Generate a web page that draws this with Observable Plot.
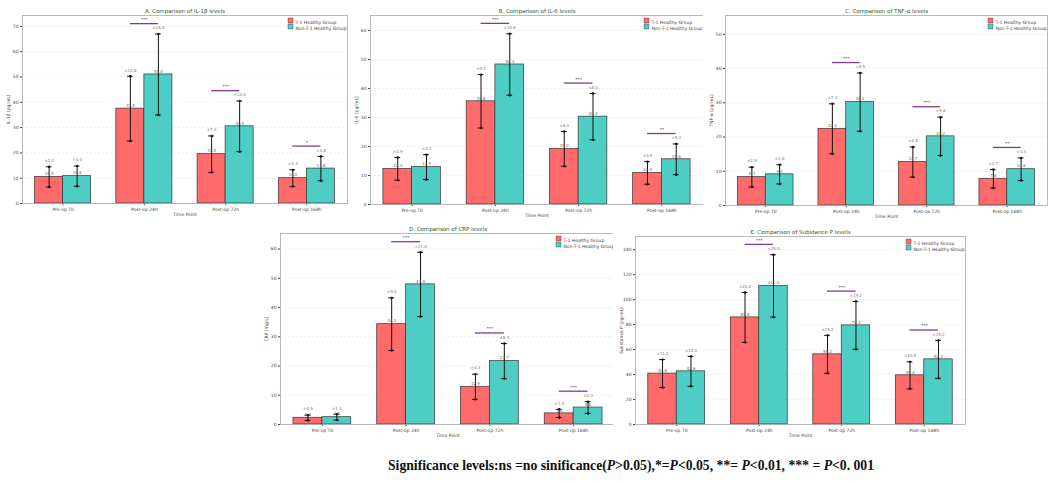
<!DOCTYPE html>
<html>
<head>
<meta charset="utf-8">
<script src="https://cdn.jsdelivr.net/npm/d3@7"></script>
<script src="https://cdn.jsdelivr.net/npm/@observablehq/plot@0.6"></script>
<style>
  html, body { margin: 0; padding: 0; background: #fff; }
  #wrap { position: relative; width: 1048px; height: 483px; overflow: hidden; background: #fff; }
  .panel { position: absolute; }
  #note { position: absolute; left: 388px; top: 458px; font-family: "Liberation Serif", "DejaVu Serif", serif; font-weight: bold; font-size: 13.7px; color: #111; white-space: nowrap; }
</style>
</head>
<body>
<div id="wrap"><div id="note">Significance levels:ns =no sinificance(<i>P</i>&gt;0.05),*=<i>P</i>&lt;0.05, **= <i>P</i>&lt;0.01, *** = <i>P</i>&lt;0. 001</div></div>
<script>
// ---- categories ----
const times = ["Pre-op T0", "Post-op 24h", "Post-op 72h", "Post-op 168h"];
const groups = ["T-1 Healthy Group", "Non-T-1 Healthy Group"];

// ---- A. IL-1β ----
const il1bHealthy = [10.5, 37.5, 19.5, 10.0];
const il1bHealthySd = [4.0, 12.8, 7.2, 3.3];
const il1bOther = [10.8, 51.0, 30.5, 13.8];
const il1bOtherSd = [4.0, 16.0, 10.0, 4.8];
const il1bSig = ["", "***", "***", "*"];

// ---- B. IL-6 ----
const il6Healthy = [12.3, 35.6, 19.2, 10.9];
const il6HealthySd = [3.9, 9.2, 6.0, 3.9];
const il6Other = [12.9, 48.3, 30.3, 15.6];
const il6OtherSd = [4.3, 10.6, 8.0, 5.3];
const il6Sig = ["", "***", "***", "**"];

// ---- C. TNF-α ----
const tnfHealthy = [8.3, 22.4, 12.7, 7.8];
const tnfHealthySd = [2.9, 7.3, 4.4, 2.7];
const tnfOther = [9.1, 30.2, 20.2, 10.6];
const tnfOtherSd = [2.8, 8.5, 5.6, 3.3];
const tnfSig = ["", "***", "***", "**"];

// ---- D. CRP ----
const crpHealthy = [2.3, 34.3, 12.9, 3.8];
const crpHealthySd = [0.9, 9.0, 4.3, 1.4];
const crpOther = [2.5, 47.9, 21.7, 5.8];
const crpOtherSd = [1.0, 11.0, 6.0, 2.0];
const crpSig = ["", "***", "***", "***"];

// ---- E. Substance P ----
const spHealthy = [40.8, 85.8, 56.2, 39.4];
const spHealthySd = [11.2, 20.0, 15.2, 10.8];
const spOther = [42.6, 111.0, 79.4, 52.2];
const spOtherSd = [12.0, 25.0, 19.2, 15.2];
const spSig = ["", "***", "***", "***"];

const colors = ["#FF6B6B", "#4ECDC4"];
const bw = 0.345;

const panels = [
  {title: "A. Comparison of IL-1β levels", ylabel: "IL-1β (pg/mL)", a: il1bHealthy, as: il1bHealthySd, b: il1bOther, bs: il1bOtherSd, sig: il1bSig, top: 74.3, step: 10,
   left: 0, topPx: 0, width: 350, height: 220, mL: 22, mR: 3, mT: 15, mB: 17},
  {title: "B. Comparison of IL-6 levels", ylabel: "IL-6 (pg/mL)", a: il6Healthy, as: il6HealthySd, b: il6Other, bs: il6OtherSd, sig: il6Sig, top: 65.2, step: 10,
   left: 348, topPx: 0, width: 358, height: 220, mL: 22, mR: 3, mT: 15, mB: 16},
  {title: "C. Comparison of TNF-α levels", ylabel: "TNF-α (pg/mL)", a: tnfHealthy, as: tnfHealthySd, b: tnfOther, bs: tnfOtherSd, sig: tnfSig, top: 55.5, step: 10,
   left: 703, topPx: 0, width: 345, height: 220, mL: 22, mR: 1, mT: 15, mB: 15},
  {title: "D. Comparison of CRP levels", ylabel: "CRP (mg/L)", a: crpHealthy, as: crpHealthySd, b: crpOther, bs: crpOtherSd, sig: crpSig, top: 65.3, step: 10,
   left: 258, topPx: 220, width: 360, height: 220, mL: 22, mR: 3, mT: 13, mB: 16},
  {title: "E. Comparison of Substance P levels", ylabel: "Substance P (pg/mL)", a: spHealthy, as: spHealthySd, b: spOther, bs: spOtherSd, sig: spSig, top: 150.6, step: 20,
   left: 613, topPx: 220, width: 355, height: 220, mL: 22, mR: 3, mT: 16, mB: 16}
];

const wrap = document.getElementById("wrap");

for (const p of panels) {
  const rows = [];
  times.forEach((t, i) => {
    rows.push({i, g: 0, mean: p.a[i], sd: p.as[i]});
    rows.push({i, g: 1, mean: p.b[i], sd: p.bs[i]});
  });
  rows.forEach(r => { r.cx = r.i + (r.g === 0 ? -bw / 2 : bw / 2); });
  const sigRows = times.map((t, i) => ({
    i, label: p.sig[i],
    y: Math.max(p.a[i] + p.as[i], p.b[i] + p.bs[i]) + p.top * 0.055
  })).filter(d => d.label);
  const ticks = d3.range(0, p.top + 1e-9, p.step);

  const chart = Plot.plot({
    width: p.width, height: p.height,
    marginLeft: p.mL, marginRight: p.mR, marginTop: p.mT, marginBottom: p.mB,
    style: {fontFamily: "DejaVu Sans, sans-serif", fontSize: "4.5px", color: "#444", background: "#fff"},
    x: {domain: [-0.5, 3.5]},
    y: {domain: [0, p.top]},
    marks: [
      Plot.gridY(ticks, {stroke: "#ddd", strokeOpacity: 1, strokeWidth: 0.5, strokeDasharray: "2,2"}),
      Plot.rectY(rows, {x1: d => d.g === 0 ? d.i - bw : d.i, x2: d => d.g === 0 ? d.i : d.i + bw, y1: 0, y2: "mean",
        fill: d => colors[d.g], stroke: "#333", strokeWidth: 0.7}),
      Plot.ruleX(rows, {x: "cx", y1: d => d.mean - d.sd, y2: d => d.mean + d.sd, stroke: "#111", strokeWidth: 1}),
      Plot.ruleY(rows, {x1: d => d.cx - 0.035, x2: d => d.cx + 0.035, y: d => d.mean + d.sd, stroke: "#111", strokeWidth: 1}),
      Plot.ruleY(rows, {x1: d => d.cx - 0.035, x2: d => d.cx + 0.035, y: d => d.mean - d.sd, stroke: "#111", strokeWidth: 1}),
      Plot.dot(rows, {x: "cx", y: d => d.mean + d.sd, r: 1.2, fill: "#111"}),
      Plot.dot(rows, {x: "cx", y: d => d.mean - d.sd, r: 1.2, fill: "#111"}),
      Plot.text(rows, {x: "cx", y: "mean", text: d => d.mean.toFixed(1), dy: -3, fill: "#666", fontSize: 4}),
      Plot.text(rows, {x: "cx", y: d => d.mean + d.sd, text: d => "±" + d.sd.toFixed(1), dy: -6, fill: "#777", fontSize: 4}),
      Plot.ruleY(sigRows, {x1: d => d.i - bw / 2, x2: d => d.i + bw / 2, y: "y", stroke: "#7d3c98", strokeWidth: 1.3}),
      Plot.text(sigRows, {x: "i", y: "y", text: "label", dy: -4, fill: "#555", fontSize: 4.5}),
      Plot.axisY({ticks, tickSize: 2, tickPadding: 2, label: p.ylabel, labelAnchor: "center", labelArrow: "none", labelOffset: 16, fontSize: 4.5}),
      Plot.axisX({ticks: [0, 1, 2, 3], tickFormat: i => times[i], tickSize: 2, tickPadding: 2, label: "Time Point", labelAnchor: "center", labelArrow: "none", labelOffset: 12, fontSize: 4.5}),
      Plot.frame({stroke: "#aaa", strokeWidth: 0.8}),
      Plot.text([p.title], {frameAnchor: "top", dy: -6, fill: "#2f5a2f", fontSize: 5.5}),
      Plot.dot([groups[0]], {frameAnchor: "top-right", dx: -57, dy: 5, symbol: "square", r: 2.8, fill: colors[0], stroke: "#333", strokeWidth: 0.4}),
      Plot.dot([groups[1]], {frameAnchor: "top-right", dx: -57, dy: 11, symbol: "square", r: 2.8, fill: colors[1], stroke: "#333", strokeWidth: 0.4}),
      Plot.text([groups[0]], {frameAnchor: "top-right", dx: -52, dy: 5, textAnchor: "start", fill: "#444", fontSize: 4.5}),
      Plot.text([groups[1]], {frameAnchor: "top-right", dx: -52, dy: 11, textAnchor: "start", fill: "#444", fontSize: 4.5})
    ]
  });
  const div = document.createElement("div");
  div.className = "panel";
  div.style.left = p.left + "px";
  div.style.top = p.topPx + "px";
  div.appendChild(chart);
  wrap.appendChild(div);
}
</script>
</body>
</html>
